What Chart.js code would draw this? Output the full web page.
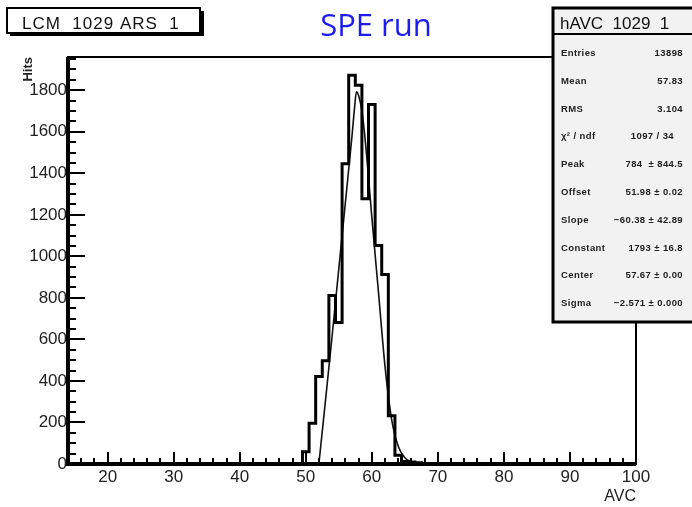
<!DOCTYPE html>
<html>
<head>
<meta charset="utf-8">
<script src="https://cdn.jsdelivr.net/npm/chart.js@4/dist/chart.umd.min.js"></script>
<style>
  html, body { margin: 0; padding: 0; background: #fff; }
</style>
</head>
<body>
<canvas id="myChart" width="692" height="507"></canvas>
<script>
// histogram bins (AVC, 1 unit wide)
const binCenters = [50, 51, 52, 53, 54, 55, 56, 57, 58, 59, 60, 61, 62, 63, 64, 65, 66, 67];
const binCounts = [59, 196, 421, 497, 811, 682, 1446, 1872, 1824, 1277, 1731, 1052, 912, 232, 42, 12, 10, 6];

// fit curve
const fitX = [51.98, 53, 54, 55, 56, 57, 57.4, 57.67, 58, 58.5, 59, 60, 61, 62, 63, 64, 65, 66, 67, 68];
const fitY = [0, 310, 620, 940, 1260, 1580, 1720, 1793, 1775, 1700, 1560, 1190, 830, 470, 215, 85, 30, 9, 2, 0];

const xTickValues = [20, 30, 40, 50, 60, 70, 80, 90, 100];
const yTickValues = [0, 200, 400, 600, 800, 1000, 1200, 1400, 1600, 1800];

const statsLabels = ['Entries', 'Mean', 'RMS', 'χ² / ndf', 'Peak', 'Offset', 'Slope', 'Constant', 'Center', 'Sigma'];
const statsValues = ['13898', '57.83', '3.104', '1097 / 34', '784  ± 844.5', '51.98 ± 0.02', '−60.38 ± 42.89', '1793 ± 16.8', '57.67 ± 0.00', '−2.571 ± 0.000'];

const FONT = "'Liberation Sans', Arial, sans-serif";

// outline points at bin edges, each edge carries the bin to its right
const histPoints = [{x: 14, y: 0}];
binCenters.forEach(function(c, i) {
  histPoints.push({x: c - 0.5, y: binCounts[i]});
});
histPoints.push({x: binCenters[binCenters.length - 1] + 0.5, y: 0});
histPoints.push({x: 100, y: 0});

const fitPoints = fitX.map(function(v, i) { return {x: v, y: fitY[i]}; });

// ROOT-like frame, inward ticks and text boxes
const rootFrame = {
  id: 'rootFrame',
  afterDatasetsDraw(chart) {
    const ctx = chart.ctx;
    const a = chart.chartArea;
    const x = chart.scales.x;
    const y = chart.scales.y;
    ctx.save();
    ctx.strokeStyle = '#000';
    ctx.lineWidth = 2;
    ctx.beginPath();
    for (let v = 14; v <= 100; v += 2) {
      const px = Math.round(x.getPixelForValue(v));
      const len = v % 10 === 0 ? 12 : 6;
      ctx.moveTo(px, a.bottom);
      ctx.lineTo(px, a.bottom - len);
    }
    for (let v = 0; v <= 1950; v += 50) {
      const py = Math.round(y.getPixelForValue(v));
      const len = v % 200 === 0 ? 17 : 8;
      ctx.moveTo(a.left, py);
      ctx.lineTo(a.left + len, py);
    }
    ctx.stroke();

    // frame
    ctx.lineWidth = 2;
    ctx.strokeRect(a.left, a.top, a.right - a.left, a.bottom - a.top);
    ctx.lineWidth = 4;
    ctx.beginPath();
    ctx.moveTo(a.left, a.top);
    ctx.lineTo(a.left, a.bottom);
    ctx.moveTo(a.left - 2, a.bottom);
    ctx.lineTo(a.right, a.bottom);
    ctx.stroke();
    ctx.restore();
  },
  afterDraw(chart) {
    const ctx = chart.ctx;
    ctx.save();

    // top-left label box with shadow
    ctx.fillStyle = '#000';
    ctx.fillRect(10, 11, 194, 25);
    ctx.fillStyle = '#fff';
    ctx.fillRect(7, 8, 193, 25);
    ctx.strokeStyle = '#000';
    ctx.lineWidth = 2;
    ctx.strokeRect(7, 8, 193, 25);
    ctx.fillStyle = '#111';
    ctx.font = '17px ' + FONT;
    ctx.letterSpacing = '1px';
    ctx.textBaseline = 'alphabetic';
    ctx.textAlign = 'left';
    ctx.fillText('LCM  1029 ARS  1', 22, 29);
    ctx.letterSpacing = '0px';

    // blue run title
    ctx.fillStyle = '#1c1cf0';
    ctx.font = "31px 'Open Sans', sans-serif";
    ctx.textAlign = 'center';
    ctx.fillText('SPE run', 376, 36);

    // stats box
    ctx.fillStyle = '#f2f2f2';
    ctx.fillRect(552, 8, 142, 314);
    ctx.strokeStyle = '#000';
    ctx.lineWidth = 3;
    ctx.strokeRect(553, 8, 142, 314);
    ctx.lineWidth = 2;
    ctx.beginPath();
    ctx.moveTo(553, 34);
    ctx.lineTo(692, 34);
    ctx.stroke();

    ctx.fillStyle = '#111';
    ctx.font = '17px ' + FONT;
    ctx.textAlign = 'left';
    ctx.fillText('hAVC  1029  1', 560, 29);

    ctx.font = 'bold 9.5px ' + FONT;
    ctx.fillStyle = '#222';
    ctx.letterSpacing = '0.4px';
    statsLabels.forEach(function(lbl, i) {
      const ty = 56 + i * 27.8;
      ctx.textAlign = 'left';
      ctx.fillText(lbl, 561, ty);
      ctx.textAlign = 'right';
      ctx.fillText(statsValues[i], i === 3 ? 674 : 683, ty);
    });
    ctx.restore();
  }
};

// eslint-disable-next-line no-undef
const chart = new Chart(document.getElementById('myChart').getContext('2d'), {
  type: 'line',
  data: {
    datasets: [{
      label: 'hAVC',
      data: histPoints,
      stepped: 'before',
      borderColor: '#000',
      borderWidth: 3,
      pointRadius: 0,
      fill: false,
    },
    {
      label: 'fit',
      data: fitPoints,
      borderColor: '#111',
      borderWidth: 1.6,
      pointRadius: 0,
      cubicInterpolationMode: 'monotone',
      fill: false,
    }]
  },
  options: {
    responsive: false,
    animation: false,
    devicePixelRatio: 1,
    layout: { padding: { left: 0, right: 56, top: 57, bottom: 0 } },
    plugins: {
      legend: { display: false },
      tooltip: { enabled: false },
    },
    scales: {
      x: {
        type: 'linear',
        min: 14,
        max: 100,
        grid: { display: false, drawTicks: false },
        border: { display: false },
        afterBuildTicks: function(scale) {
          scale.ticks = xTickValues.map(function(v) { return {value: v}; });
        },
        afterFit: function(scale) { scale.height = 43; },
        ticks: {
          padding: 3,
          maxRotation: 0,
          color: '#222',
          font: { family: FONT, size: 17 },
          callback: function(v) { return String(v); },
        },
        title: {
          display: true,
          text: 'AVC',
          align: 'end',
          color: '#222',
          padding: { top: 0, bottom: 1 },
          font: { family: FONT, size: 16 },
        },
      },
      y: {
        type: 'linear',
        min: 0,
        max: 1960,
        grid: { display: false, drawTicks: false },
        border: { display: false },
        afterBuildTicks: function(scale) {
          scale.ticks = yTickValues.map(function(v) { return {value: v}; });
        },
        afterFit: function(scale) { scale.width = 68; },
        ticks: {
          padding: 1,
          color: '#222',
          font: { family: FONT, size: 17 },
          callback: function(v) { return String(v); },
        },
        title: {
          display: true,
          text: 'Hits',
          align: 'end',
          color: '#222',
          padding: { top: 21 },
          font: { family: FONT, size: 13, weight: 'bold' },
        },
      },
    },
  },
  plugins: [rootFrame],
});
</script>
</body>
</html>
